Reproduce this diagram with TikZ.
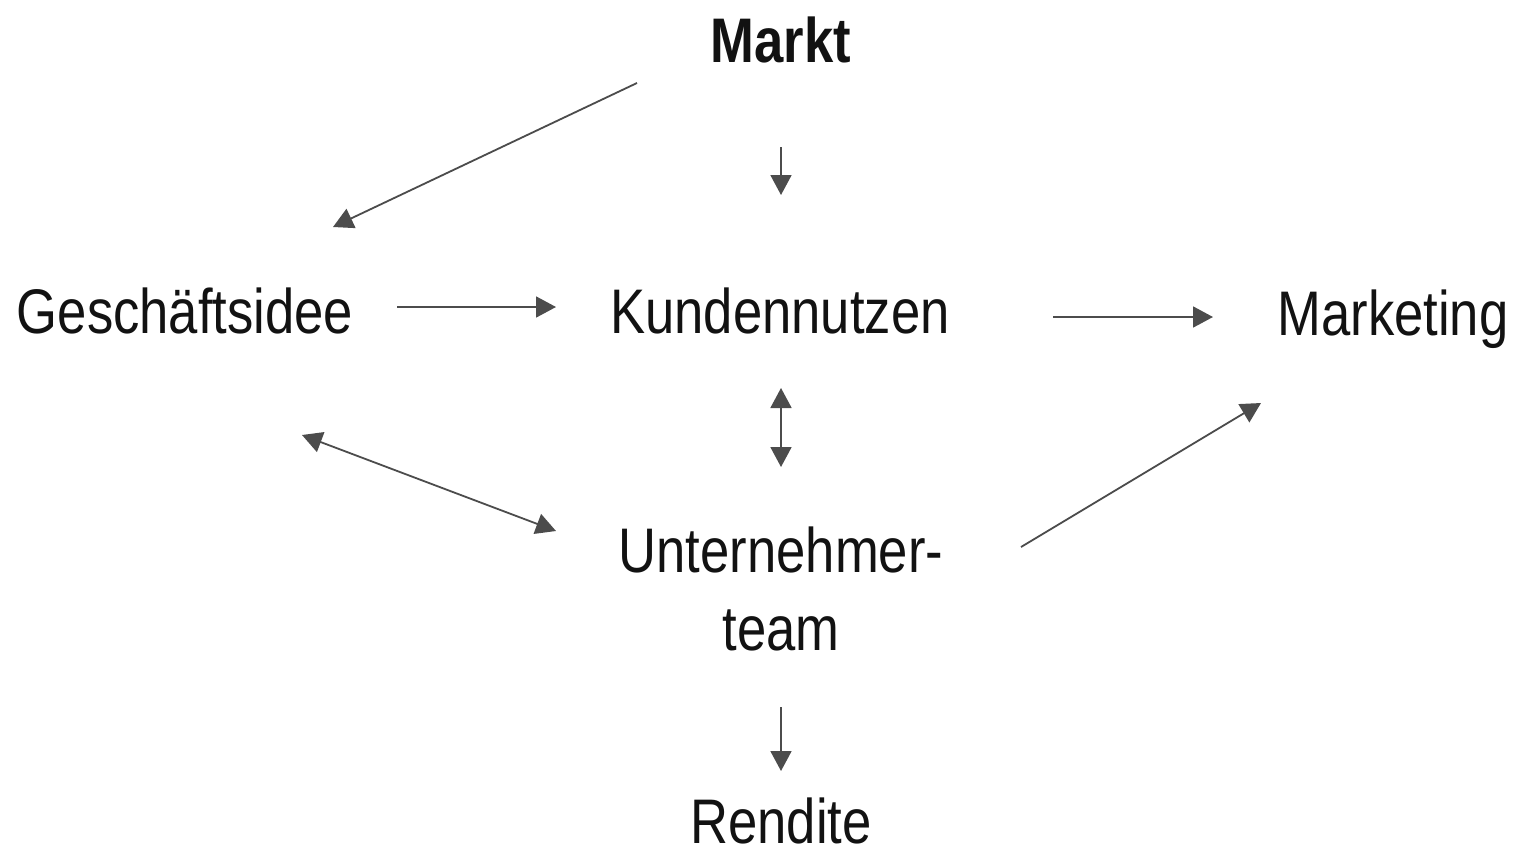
\documentclass[tikz,border=0pt]{standalone}
\usepackage{fontspec}
\setmainfont{Liberation Sans}[FakeStretch=0.835]
\usetikzlibrary{arrows.meta}

\begin{document}
\begin{tikzpicture}[x=1pt, y=-1pt,
		word/.style={anchor=base, inner sep=0pt, text=black!93, font=\fontsize{63}{78}\selectfont},
		link/.style={draw=black!70, line width=1.8pt, -{Triangle[length=20pt, width=21pt]}},
		twoway/.style={link, {Triangle[length=20pt, width=21pt]}-{Triangle[length=20pt, width=21pt]}}]
			\useasboundingbox (0,0) rectangle (1513,847);

			\node[word, font=\fontsize{63}{78}\selectfont\bfseries] (markt) at (781,62) {Markt};
			\node[word] (gesch) at (185,333) {Geschäftsidee};
			\node[word] (kunden) at (780,333) {Kundennutzen};
			\node[word] (mark) at (1393,335) {Marketing};
			\node[word, align=center] (team) at (781,650) {Unternehmer-\\team};
			\node[word] (rendite) at (781,843) {Rendite};

			\draw[link] ([shift={(-144,21)}]markt.base) -- ([shift={(148,-106)}]gesch.base);
			\draw[link] ([shift={(0,85)}]markt.base) -- ([shift={(1,-138)}]kunden.base);
			\draw[link] ([shift={(212,-26)}]gesch.base) -- ([shift={(-224,-26)}]kunden.base);
			\draw[link] ([shift={(273,-16)}]kunden.base) -- ([shift={(-180,-18)}]mark.base);
			\draw[twoway] ([shift={(1,55)}]kunden.base) -- ([shift={(0,-183)}]team.base);
			\draw[twoway] ([shift={(117,102)}]gesch.base) -- ([shift={(-225,-119)}]team.base);
			\draw[link] ([shift={(240,-103)}]team.base) -- ([shift={(-132,68)}]mark.base);
			\draw[link] ([shift={(0,57)}]team.base) -- ([shift={(0,-72)}]rendite.base);
		\end{tikzpicture}
\end{document}
